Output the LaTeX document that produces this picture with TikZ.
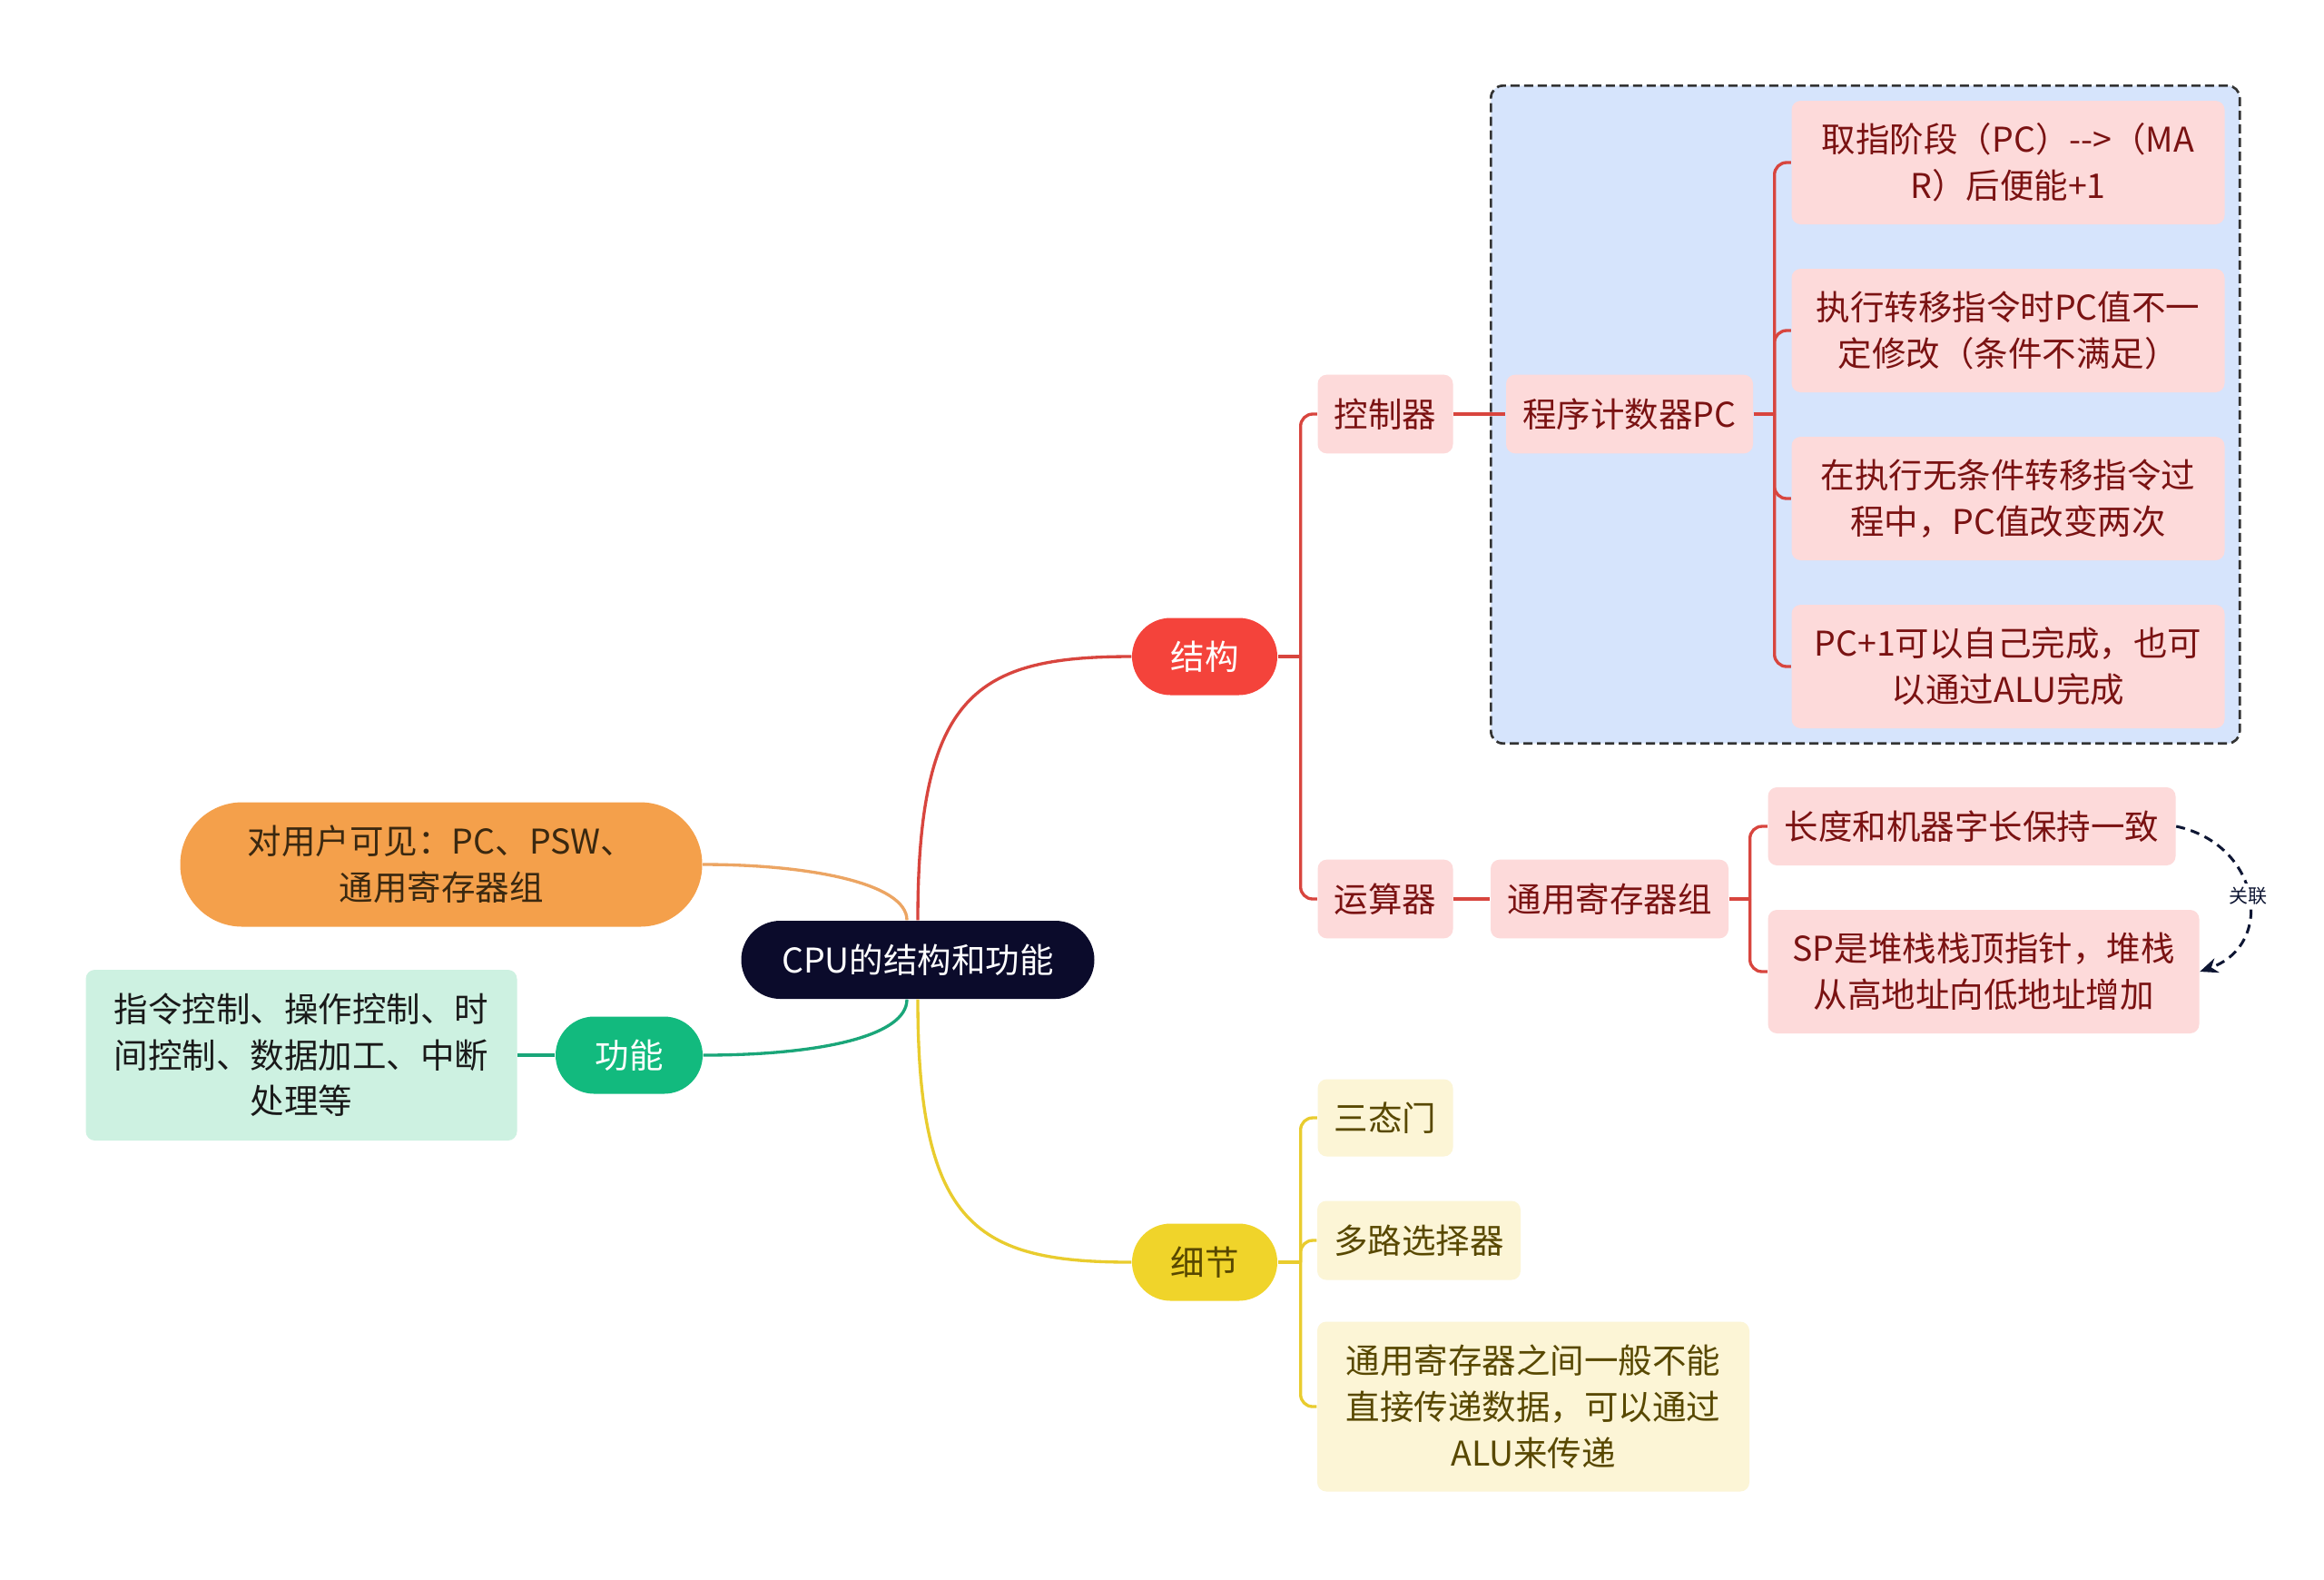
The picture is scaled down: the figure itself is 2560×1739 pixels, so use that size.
\documentclass[tikz,border=0pt]{standalone}
\usepackage{fontspec}
\setmainfont{Noto Sans CJK SC}
\usetikzlibrary{arrows.meta,fit,backgrounds}

\definecolor{rootfill}{HTML}{0B0B2B}
\definecolor{redmain}{HTML}{F4433B}
\definecolor{redline}{HTML}{D8453E}
\definecolor{pinkfill}{HTML}{FDDADA}
\definecolor{pinktext}{HTML}{7A1212}
\definecolor{bluefill}{HTML}{D6E4FC}
\definecolor{orangefill}{HTML}{F4A04B}
\definecolor{orangeline}{HTML}{ECA563}
\definecolor{orangetext}{HTML}{3A2810}
\definecolor{greenmain}{HTML}{12BA7E}
\definecolor{greenline}{HTML}{1AA679}
\definecolor{greenfill}{HTML}{CDF1E1}
\definecolor{yellowmain}{HTML}{F0D42A}
\definecolor{yellowline}{HTML}{E9CC2E}
\definecolor{yellowfill}{HTML}{FCF5D6}
\definecolor{yellowtext}{HTML}{584800}
\definecolor{linkcol}{HTML}{0E1633}

\tikzset{
  every node/.style={font=\fontsize{11.25pt}{15.2pt}\selectfont, align=center, inner sep=0pt},
  root/.style={fill=rootfill, text=white, rounded corners=12.9pt, minimum width=116.7pt, minimum height=25.8pt},
  topic/.style={rounded corners=12.75pt, minimum width=48pt, minimum height=25.5pt},
  redleaf/.style={fill=pinkfill, text=pinktext, rounded corners=3pt, minimum height=26pt},
  yelleaf/.style={fill=yellowfill, text=yellowtext, rounded corners=3pt, minimum height=25.5pt},
  wire/.style={line width=1pt},
}

\begin{document}
\begin{tikzpicture}[x=0.3pt,y=0.3pt,yscale=-1,xscale=1]
    \useasboundingbox (0,0) rectangle (2560,1739);
    \begin{scope}[on background layer]
      \fill[white] (0,0) rectangle (2560,1739);
    \end{scope}

    % Root
    \node (cpu) at (1011,1057) [root] {CPU的结构和功能};

    % Main topics
    \node (jg) at (1327,723) [topic, fill=redmain, text=white] {结构};
    \node (gn) at (693,1162) [topic, fill=greenmain, text=white, minimum width=48.6pt] {功能};
    \node (xj) at (1327,1390) [topic, fill=yellowmain, text=yellowtext] {细节};
    \node (kj) at (486,952) [fill=orangefill, text=orangetext, rounded corners=20.5pt, minimum width=172.5pt, minimum height=41.1pt] {对用户可见：PC、PSW、\\通用寄存器组};

    % Text Node
    \node (gnbox) at (332,1162) [fill=greenfill, text=black!90, rounded corners=3pt, minimum width=142.5pt, minimum height=56.4pt] {指令控制、操作控制、时\\间控制、数据加工、中断\\处理等};

    % Structure branch
    \node (kzq) at (1526,456) [redleaf, minimum width=44.7pt] {控制器};
    \node (ysq) at (1526,990) [redleaf, minimum width=44.7pt] {运算器};
    \node (pc) at (1795,456) [redleaf, minimum width=81.6pt] {程序计数器PC};
    \node (tyjcq) at (1773,990) [redleaf, minimum width=78.6pt] {通用寄存器组};

    \node (l1) at (2212,179) [redleaf, minimum width=143.1pt, minimum height=40.8pt] {取指阶段（PC）-{}-{}>（MA\\R）后便能+1};
    \node (l2) at (2212,364) [redleaf, minimum width=143.1pt, minimum height=40.8pt] {执行转移指令时PC值不一\\定修改（条件不满足）};
    \node (l3) at (2212,549) [redleaf, minimum width=143.1pt, minimum height=40.8pt] {在执行无条件转移指令过\\程中，PC值改变两次};
    \node (l4) at (2212,734) [redleaf, minimum width=143.1pt, minimum height=40.8pt] {PC+1可以自己完成，也可\\以通过ALU完成};
    \node (l5) at (2172,910) [redleaf, minimum width=134.7pt, minimum height=25.8pt] {长度和机器字长保持一致};
    \node (l6) at (2185,1070) [redleaf, minimum width=142.5pt, minimum height=40.8pt] {SP是堆栈栈顶指针，堆栈\\从高地址向低地址增加};

    % Detail branch
    \node (y1) at (1526,1231) [yelleaf, minimum width=44.7pt] {三态门};
    \node (y2) at (1563,1366) [yelleaf, minimum width=67.2pt, minimum height=26.1pt] {多路选择器};
    \node (y3) at (1689,1549) [yelleaf, minimum width=142.8pt, minimum height=56.1pt] {通用寄存器之间一般不能\\直接传递数据，可以通过\\ALU来传递};

    % Boundary
    \begin{scope}[on background layer]
      \node (bx) [fit=(pc)(l1)(l4), inner sep=4.8pt, fill=bluefill, draw=black!80, dash pattern=on 3pt off 1.5pt, rounded corners=4pt, line width=0.8pt] {};
    \end{scope}

    % Curves from root
    \draw[wire, redline] (cpu.north) .. controls +(0,-250) and +(-170,0) .. (jg.west);
    \draw[wire, orangeline] ([xshift=-3.6pt]cpu.north) .. controls +(0,-40) and +(120,0) .. (kj.east);
    \draw[wire, greenline] ([xshift=-3.6pt]cpu.south) .. controls +(0,40) and +(130,0) .. (gn.east);
    \draw[wire, yellowline] (cpu.south) .. controls +(0,250) and +(-170,0) .. (xj.west);

    %Straight Lines
    \draw[wire, greenline] (gn) -- (gnbox);
    \draw[wire, redline] (kzq) -- (pc);
    \draw[wire, redline] (ysq) -- (tyjcq);

    % Brackets
    \draw[wire, redline] (jg.east) -- ++(25,0) coordinate (jgb);
    \draw[wire, redline, rounded corners=4pt] (jgb) |- (kzq.west);
    \draw[wire, redline, rounded corners=4pt] (jgb) |- (ysq.west);

    \draw[wire, redline] (pc.east) -- ++(23,0) coordinate (pcb);
    \foreach \n in {l1,l2,l3,l4}
      \draw[wire, redline, rounded corners=4pt] (pcb) |- (\n.west);

    \draw[wire, redline] (tyjcq.east) -- ++(23,0) coordinate (tyb);
    \foreach \n in {l5,l6}
      \draw[wire, redline, rounded corners=4pt] (tyb) |- (\n.west);

    \draw[wire, yellowline] (xj.east) -- ++(25,0) coordinate (xjb);
    \foreach \n in {y1,y2,y3}
      \draw[wire, yellowline, rounded corners=4pt] (xjb) |- (\n.west);

    % Relation
    \draw[linkcol, line width=0.9pt, dash pattern=on 3pt off 2pt, -{Stealth[length=6pt,width=5pt]}] (l5.east) .. controls +(93,20) and +(84,-30) .. (l6.east) node[pos=0.5, fill=white, inner sep=1pt, font=\fontsize{6.3pt}{7pt}\selectfont, text=linkcol] (rel) {关联};

\end{tikzpicture}
\end{document}
